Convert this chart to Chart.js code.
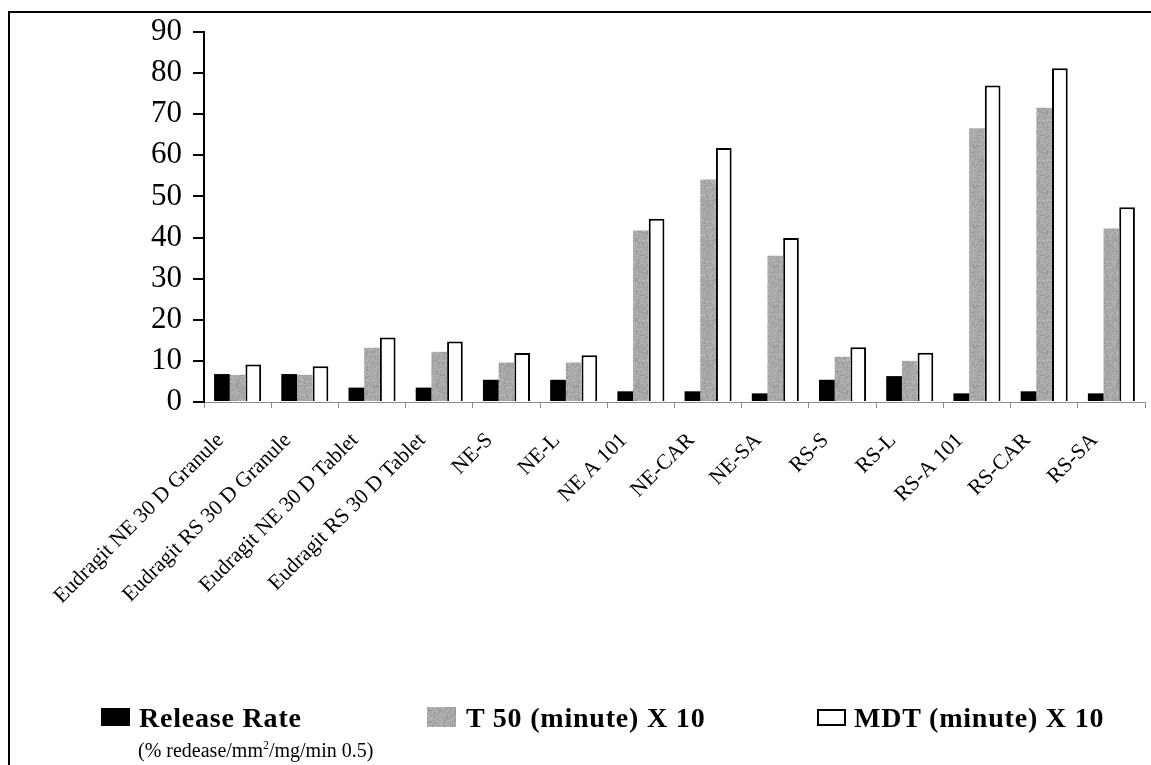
<!DOCTYPE html>
<html>
<head>
<meta charset="utf-8">
<script src="https://cdn.jsdelivr.net/npm/chart.js@4.4.1/dist/chart.umd.min.js"></script>
<style>
  html, body { margin: 0; padding: 0; background: #fff; overflow: hidden; }
  #wrap { position: relative; width: 1151px; height: 765px; }
  #frame { position: absolute; left: 8px; top: 11px; width: 1200px; height: 800px;
           border: 2px solid #000; box-sizing: border-box; }
  #chart { position: absolute; left: 0; top: 0; }
  .key { position: absolute; width: 29px; height: 18px; box-sizing: border-box; }
  .lbl { position: absolute; font-family: "Liberation Serif", "Times New Roman", serif;
         font-weight: bold; font-size: 28px; line-height: 28px; letter-spacing: 0.8px;
         color: #000; white-space: nowrap; }
  .sub { position: absolute; font-family: "Liberation Serif", "Times New Roman", serif;
         font-size: 20px; line-height: 20px; color: #000; white-space: nowrap; }
  .sub sup { font-size: 12px; line-height: 0; vertical-align: 8px; }
</style>
</head>
<body>
<div id="wrap">
  <div id="frame"></div>
  <canvas id="chart" width="1151" height="765"></canvas>
  <div id="legend"></div>
</div>
<script>
/* ---------------- DATA ---------------- */

const categories = [
  "Eudragit NE 30 D Granule", "Eudragit RS 30 D Granule",
  "Eudragit NE 30 D Tablet", "Eudragit RS 30 D Tablet",
  "NE-S", "NE-L", "NE A 101", "NE-CAR", "NE-SA",
  "RS-S", "RS-L", "RS-A 101", "RS-CAR", "RS-SA"
];

const releaseRate = [6.8, 6.8, 3.5, 3.5, 5.4, 5.4, 2.6, 2.6, 2.1, 5.4, 6.3, 2.1, 2.6, 2.1];
const t50x10      = [6.6, 6.6, 13.2, 12.2, 9.6, 9.6, 41.7, 54.1, 35.6, 11.0, 10.0, 66.6, 71.6, 42.2];
const mdtx10      = [9.1, 8.7, 15.7, 14.7, 11.9, 11.4, 44.6, 61.8, 39.9, 13.3, 12.0, 77.0, 81.2, 47.4];

const seriesNames = ["Release Rate", "T 50 (minute) X 10", "MDT (minute) X 10"];
const releaseUnit = "(% redease/mm<sup>2</sup>/mg/min 0.5)";

const yTicks = [0, 10, 20, 30, 40, 50, 60, 70, 80, 90];

/* ---------------- TEXTURE ---------------- */

// speckled grey fill like the original print
function greyTexture() {
  const c = document.createElement("canvas");
  c.width = 40; c.height = 40;
  const g = c.getContext("2d");
  const img = g.createImageData(40, 40);
  for (let y = 0; y < 40; y++) {
    for (let x = 0; x < 40; x++) {
      const h = ((x * 73 + y * 151) ^ (x * y * 17 + y * 29)) % 37;
      const v = 168 + h - 18;
      const i = (y * 40 + x) * 4;
      img.data[i] = v; img.data[i + 1] = v; img.data[i + 2] = v; img.data[i + 3] = 255;
    }
  }
  g.putImageData(img, 0, 0);
  return g.createPattern(c, "repeat");
}

const grey = greyTexture();

/* ---------------- CHART ---------------- */

const serif = "'Liberation Serif', 'Times New Roman', serif";

new Chart(document.getElementById("chart"), {
  type: "bar",
  data: {
    labels: categories,
    datasets: [
      { label: seriesNames[0], data: releaseRate, backgroundColor: "#000", borderWidth: 0 },
      { label: seriesNames[1], data: t50x10, backgroundColor: grey, borderWidth: 0 },
      { label: seriesNames[2], data: mdtx10, backgroundColor: "#fff",
        borderColor: "#000", borderWidth: 2 }
    ]
  },
  options: {
    responsive: false,
    animation: false,
    devicePixelRatio: 1,
    layout: { padding: { top: 32, right: 6, left: 0, bottom: 0 } },
    datasets: { bar: { categoryPercentage: 0.7, barPercentage: 1.0 } },
    plugins: { legend: { display: false }, tooltip: { enabled: false } },
    scales: {
      x: {
        afterFit: s => { s.height = 363; },
        grid: { offset: true, drawOnChartArea: false, tickLength: 6, color: "#8c8c8c" },
        border: { color: "#8c8c8c", width: 1 },
        ticks: {
          color: "#000", minRotation: 45, maxRotation: 45, autoSkip: false,
          padding: 20, labelOffset: -17,
          font: { family: serif, size: 21.5 }
        }
      },
      y: {
        min: 0, max: 90,
        afterFit: s => { s.width = 204; },
        afterBuildTicks: s => { s.ticks = yTicks.map(v => ({ value: v })); },
        grid: { drawOnChartArea: false, tickLength: 11, color: "#000", lineWidth: 2 },
        border: { color: "#000", width: 2 },
        ticks: { color: "#000", padding: 11, font: { family: serif, size: 31 } }
      }
    }
  }
});

/* ---------------- LEGEND ---------------- */

const keys = [
  { left: 101, top: 708, style: "background:#000;" },
  { left: 427, top: 707, style: "" },
  { left: 817, top: 709, style: "background:#fff;border:2px solid #000;height:17px;" }
];
const textLeft = [139, 466, 854];

const legend = document.getElementById("legend");
seriesNames.forEach((name, i) => {
  const k = document.createElement("div");
  k.className = "key";
  k.style.cssText = `left:${keys[i].left}px;top:${keys[i].top}px;${keys[i].style}`;
  if (i === 1) {
    const kc = document.createElement("canvas");
    kc.width = 29; kc.height = 20;
    const g = kc.getContext("2d");
    g.fillStyle = grey; g.fillRect(0, 0, 29, 20);
    k.style.height = "20px";
    k.appendChild(kc);
  }
  legend.appendChild(k);

  const t = document.createElement("div");
  t.className = "lbl";
  t.style.left = textLeft[i] + "px";
  t.style.top = "704px";
  t.textContent = name;
  legend.appendChild(t);
});

const sub = document.createElement("div");
sub.className = "sub";
sub.style.left = "138px";
sub.style.top = "740px";
sub.innerHTML = releaseUnit;
legend.appendChild(sub);
</script>
</body>
</html>
